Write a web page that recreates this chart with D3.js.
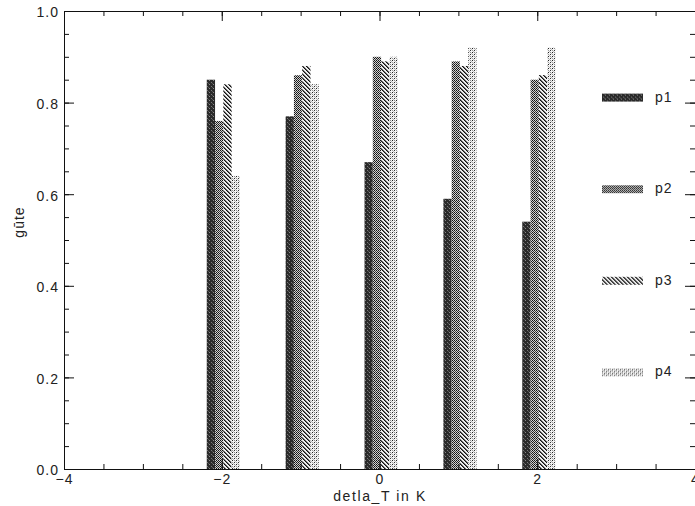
<!DOCTYPE html>
<html>
<head>
<meta charset="utf-8">
<title>guete</title>
<style>
  body { margin: 0; background: #fff; }
  svg text { font-family: "Liberation Sans", "DejaVu Sans", sans-serif; fill: #222; }
</style>
</head>
<body>
<svg width="695" height="506" class="chart"></svg>
<script src="https://cdnjs.cloudflare.com/ajax/libs/d3/7.8.5/d3.min.js"></script>
<script>
  var groups = [-2, -1, 0, 1, 2]
  var p1 = [0.85, 0.77, 0.67, 0.59, 0.54]
  var p2 = [0.76, 0.86, 0.90, 0.89, 0.85]
  var p3 = [0.84, 0.88, 0.89, 0.88, 0.86]
  var p4 = [0.64, 0.84, 0.90, 0.92, 0.92]
  var seriesNames = ['p1', 'p2', 'p3', 'p4']
  var legendLevels = [0.8, 0.6, 0.4, 0.2]
  var xMajor = [-4, -2, 0, 2, 4]
  var yMajor = [0, 0.2, 0.4, 0.6, 0.8, 1.0]

  var series = [p1, p2, p3, p4]

  var svg = d3.select('.chart')
  var plotL = 64, plotR = 695, plotT = 11, plotB = 469

  var x = d3.scaleLinear().domain([-4, 4]).range([plotL, plotR])
  var y = d3.scaleLinear().domain([0, 1]).range([plotB, plotT])

  // fill patterns, roughly like the printed hatching
  var defs = svg.append('defs')
  function pattern(id, size, bg, cells) {
    var p = defs.append('pattern').attr('id', id)
      .attr('patternUnits', 'userSpaceOnUse')
      .attr('width', size).attr('height', size)
    p.append('rect').attr('width', size).attr('height', size).attr('fill', bg)
    cells.forEach(function(c) {
      p.append('rect').attr('x', c[0]).attr('y', c[1]).attr('width', 1).attr('height', 1).attr('fill', c[2])
    })
  }
  pattern('pat-p1', 4, '#2a2a2a', [[1, 0, '#8a8a8a'], [3, 2, '#777'], [0, 3, '#555']])
  pattern('pat-p2', 4, '#d0d0d0', [[0, 0, '#111'], [2, 0, '#111'], [1, 1, '#222'], [3, 1, '#222'],
                                    [0, 2, '#111'], [2, 2, '#111'], [1, 3, '#333'], [3, 3, '#444']])
  pattern('pat-p3', 4, '#eeeeee', [[0, 0, '#111'], [1, 1, '#111'], [2, 2, '#111'], [3, 3, '#111'],
                                    [1, 0, '#666'], [2, 1, '#666'], [3, 2, '#666'], [0, 3, '#666']])
  pattern('pat-p4', 4, '#f4f4f4', [[0, 0, '#222'], [2, 2, '#333'], [2, 0, '#888'], [0, 2, '#999'],
                                    [1, 3, '#bbb'], [3, 1, '#bbb']])

  // bars
  var barW = 0.105, start = -0.19
  series.forEach(function(vals, i) {
    svg.append('g').selectAll('rect')
      .data(groups)
      .enter()
      .append('rect')
      .attr('x', function(g) { return x(g + start + i * barW) })
      .attr('width', x(barW) - x(0))
      .attr('y', function(g, j) { return y(vals[j]) })
      .attr('height', function(g, j) { return y(0) - y(vals[j]) })
      .attr('fill', 'url(#pat-' + seriesNames[i] + ')')
  })

  // axes with inward ticks on all four sides
  var xMinor = d3.range(-4, 4.01, 0.5)
  var yMinor = d3.range(0, 1.001, 0.05)
  function boxAxis(axisFn, scale, major, minor, tx, ty, labels) {
    svg.append('g').attr('transform', 'translate(' + tx + ',' + ty + ')')
      .call(axisFn(scale).tickValues(minor).tickSize(-5).tickFormat(''))
    var g = svg.append('g').attr('transform', 'translate(' + tx + ',' + ty + ')')
      .call(axisFn(scale).tickValues(major).tickSize(-10).tickPadding(5)
        .tickFormat(labels ? labels : ''))
    return g
  }
  var gx = boxAxis(d3.axisBottom, x, xMajor, xMinor, 0, plotB, d3.format('d'))
  boxAxis(d3.axisTop, x, xMajor, xMinor, 0, plotT, null)
  var gy = boxAxis(d3.axisLeft, y, yMajor, yMinor, plotL, 0, d3.format('.1f'))
  boxAxis(d3.axisRight, y, yMajor, yMinor, plotR, 0, null)

  svg.selectAll('.domain, .tick line').attr('stroke', '#111').attr('stroke-width', 1)
  svg.selectAll('.tick text').attr('font-size', 14).style('letter-spacing', '1px')
  gy.selectAll('.tick text').attr('dy', '0.42em')

  // axis titles
  svg.append('text')
    .attr('x', 380).attr('y', 501)
    .attr('text-anchor', 'middle').attr('font-size', 14)
    .style('letter-spacing', '1.6px')
    .text('detla_T in K')
  svg.append('text')
    .attr('transform', 'translate(24,' + 222 + ') rotate(-90)')
    .attr('text-anchor', 'middle').attr('font-size', 14)
    .style('letter-spacing', '1px')
    .text('gūte')

  // legend
  var legend = svg.append('g').selectAll('g')
    .data(seriesNames)
    .enter()
    .append('g')
    .attr('transform', function(d, i) { return 'translate(0,' + y(legendLevels[i]) + ')' })
  legend.append('rect')
    .attr('x', 602).attr('y', -9).attr('width', 41).attr('height', 8)
    .attr('fill', function(d) { return 'url(#pat-' + d + ')' })
  legend.append('text')
    .attr('x', 655).attr('y', -1)
    .attr('font-size', 14)
    .style('letter-spacing', '1px')
    .text(function(d) { return d })
</script>
</body>
</html>
